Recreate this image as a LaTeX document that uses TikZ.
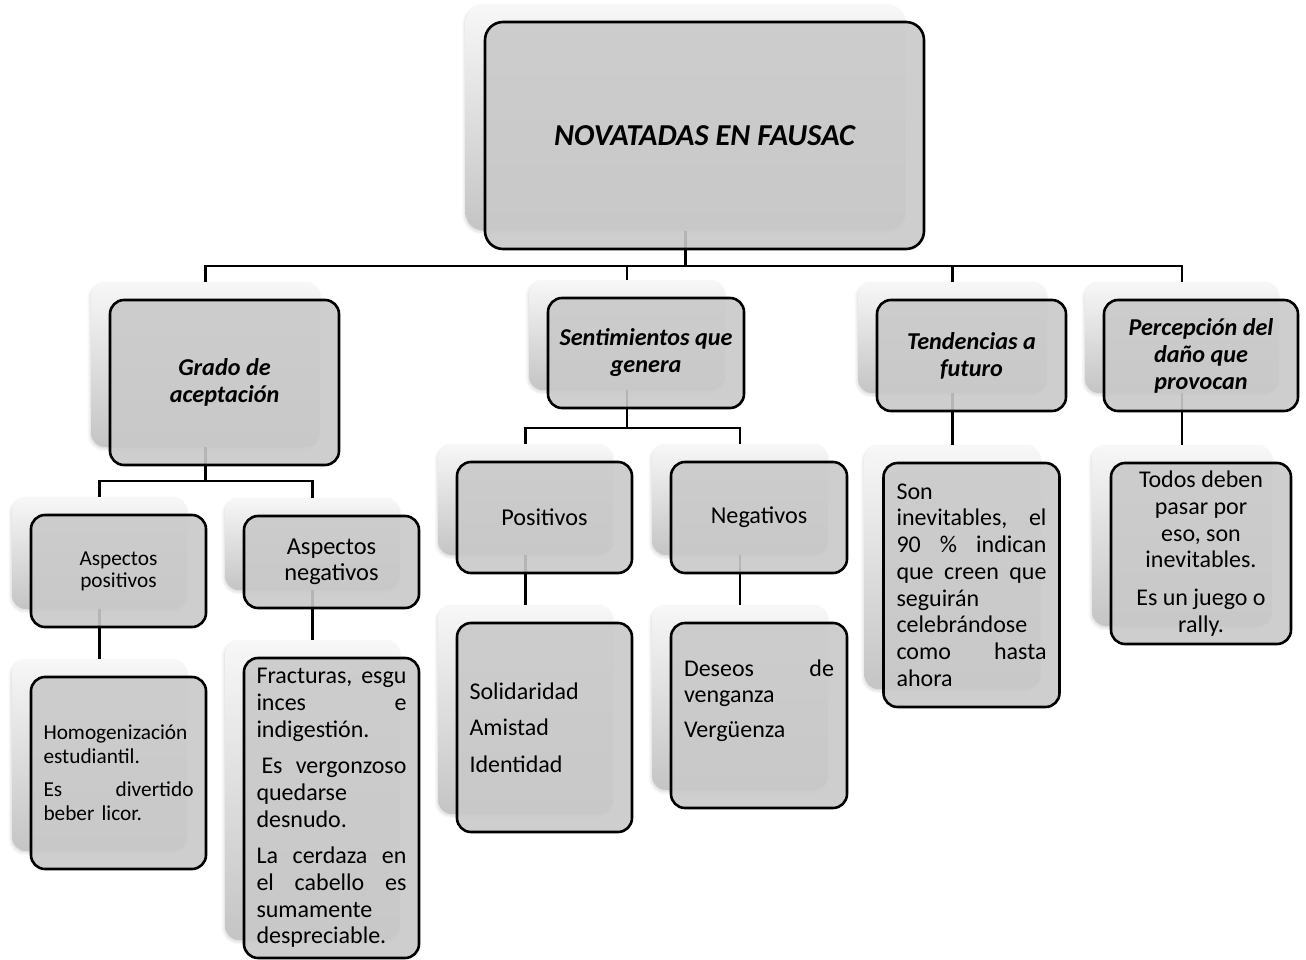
\documentclass[tikz,border=0pt]{standalone}
\usepackage{fontspec}
\setmainfont{Carlito}
\usetikzlibrary{shadows.blur}

\begin{document}
\begin{tikzpicture}[x=1pt,y=-1pt,
    sombra/.style={rounded corners=14pt, inner sep=0pt, top color=black!3, bottom color=black!23,
      blur shadow={shadow xshift=-1pt, shadow yshift=-2pt, shadow blur radius=3pt, shadow opacity=15}},
    caja/.style={draw, line width=2.6pt, rounded corners=14pt, fill=black!21, fill opacity=0.9,
      text opacity=1, inner sep=0pt, align=center},
    texto/.style={text width=150pt, align=left},
    titulo/.style={font=\fontsize{24.2}{27}\selectfont\bfseries\itshape},
    linea/.style={line width=2.4pt}]

    \useasboundingbox (0,0) rectangle (1306,960);

    % sombras
    \node[sombra, rounded corners=18pt, minimum width=440, minimum height=226] (raiz-s) at (685.5,117.5) {};
    \node[sombra, minimum width=229, minimum height=165] (grado-s) at (205.5,364.5) {};
    \node[sombra, minimum width=196, minimum height=110] (senti-s) at (627,335) {};
    \node[sombra, minimum width=189, minimum height=111] (tend-s) at (952.5,337.5) {};
    \node[sombra, minimum width=194, minimum height=111] (perc-s) at (1182,337.5) {};
    \node[sombra, minimum width=175, minimum height=112] (apos-s) at (99.5,553) {};
    \node[sombra, minimum width=175, minimum height=92] (aneg-s) at (312.5,544) {};
    \node[sombra, minimum width=175, minimum height=192] (homo-s) at (99.5,755) {};
    \node[sombra, minimum width=175, minimum height=300] (frac-s) at (312.5,790) {};
    \node[sombra, minimum width=175, minimum height=111] (posi-s) at (525.5,499.5) {};
    \node[sombra, minimum width=176, minimum height=111] (nega-s) at (740,499.5) {};
    \node[sombra, minimum width=175, minimum height=209] (soli-s) at (525.5,709.5) {};
    \node[sombra, minimum width=176, minimum height=185] (dese-s) at (740,697.5) {};
    \node[sombra, minimum width=176, minimum height=244] (son-s) at (952.5,567) {};
    \node[sombra, minimum width=180, minimum height=181] (todo-s) at (1182,535.5) {};

    % conectores
    \foreach \h in {grado,senti,tend,perc}
      \draw[linea] (raiz-s.south) -- ++(0,35) -| (\h-s.north);
    \foreach \h in {apos,aneg}
      \draw[linea] (grado-s.south) -- ++(0,34) -| (\h-s.north);
    \foreach \h in {posi,nega}
      \draw[linea] (senti-s.south) -- ++(0,38) -| (\h-s.north);
    \foreach \a/\b in {apos/homo,aneg/frac,posi/soli,nega/dese,tend/son,perc/todo}
      \draw[linea] (\a-s.south) -- (\b-s.north);

    % cajas
    \node[caja, rounded corners=18pt, minimum width=439, minimum height=227,
      font=\fontsize{30.4}{36}\selectfont\bfseries\itshape] (raiz) at (704.5,135.5) {NOVATADAS EN FAUSAC};
    \node[caja, titulo, minimum width=229, minimum height=165] (grado) at (224.5,382.5) {Grado de\\aceptación};
    \node[caja, titulo, minimum width=196, minimum height=110] (senti) at (646,353) {Sentimientos que\\genera};
    \node[caja, titulo, minimum width=189, minimum height=111] (tend) at (971.5,355.5) {Tendencias a\\futuro};
    \node[caja, titulo, minimum width=194, minimum height=111] (perc) at (1201,355.5) {Percepción del\\daño que\\provocan};

    \node[caja, minimum width=175, minimum height=112, font=\fontsize{21.3}{22}\selectfont] (apos) at (118.5,571) {Aspectos\\positivos};
    \node[caja, minimum width=175, minimum height=92, font=\fontsize{24.4}{25.7}\selectfont] (aneg) at (331.5,562) {Aspectos\\negativos};
    \node[caja, minimum width=175, minimum height=111, font=\fontsize{24.2}{25}\selectfont] (posi) at (544.5,517.5) {Positivos};
    \node[caja, minimum width=176, minimum height=111, font=\fontsize{24.2}{25}\selectfont] (nega) at (759,517.5) {Negativos};

    \node[caja, texto, minimum width=175, minimum height=192, font=\fontsize{21.3}{24}\selectfont] (homo) at (118.5,773)
      {Homogenización\\ estudiantil.\\[9pt] Es\hfill divertido\\ beber licor.};
    \node[caja, texto, minimum width=175, minimum height=300, font=\fontsize{24}{26.7}\selectfont] (frac) at (331.5,808)
      {Fracturas,\hfill esgu\\ inces\hfill e\\ indigestión.\\[10pt] \hspace*{5pt}Es\hfill vergonzoso\\ quedarse\\ desnudo.\\[10pt]
       La\hfill cerdaza\hfill en\\ el\hfill cabello\hfill es\\ sumamente\\ despreciable.};
    \node[caja, texto, minimum width=175, minimum height=209, font=\fontsize{24}{26.7}\selectfont] (soli) at (544.5,727.5)
      {Solidaridad\\[10pt] Amistad\\[10pt] Identidad};
    \node[caja, texto, minimum width=176, minimum height=185, font=\fontsize{24}{26.7}\selectfont] (dese) at (759,715.5)
      {Deseos\hfill de\\ venganza\\[8pt] Vergüenza\\[7pt]\mbox{}};
    \node[caja, texto, minimum width=176, minimum height=244, font=\fontsize{24}{26.7}\selectfont] (son) at (971.5,585)
      {Son\\ inevitables,\hfill el\\ 90\hfill\%\hfill indican\\ que\hfill creen\hfill que\\ seguirán\\ celebrándose\\ como\hfill hasta\\ ahora};
    \node[caja, minimum width=180, minimum height=181, font=\fontsize{24}{26.7}\selectfont] (todo) at (1201,553.5)
      {Todos deben\\ pasar por\\ eso, son\\ inevitables.\\[11pt] Es un juego o\\ rally.};
\end{tikzpicture}
\end{document}
